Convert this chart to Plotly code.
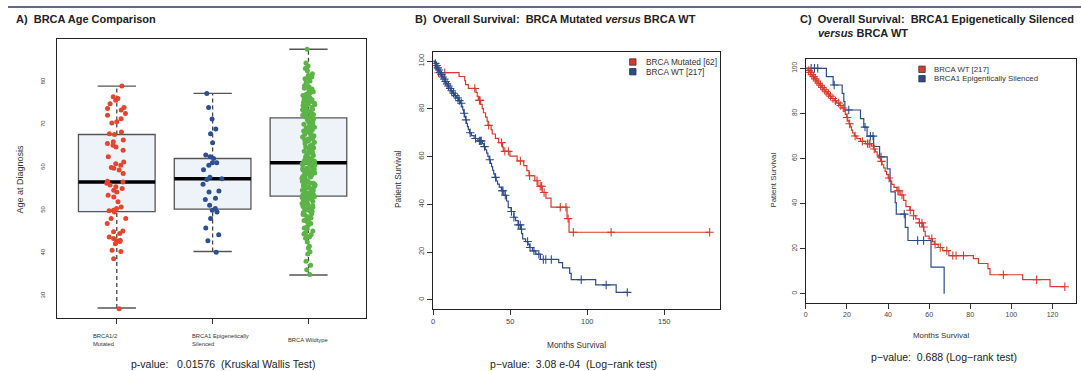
import numpy as np
import plotly.graph_objects as go

W, H = 1081, 371
FONT = "Liberation Sans, Arial, Helvetica, sans-serif"

# ---------------- Panel A: age at diagnosis by BRCA status ----------------
group_labels = ["BRCA1/2<br>Mutated", "BRCA1 Epigenetically<br>Silenced", "BRCA Wildtype"]

age_mutated = [
    79.0, 76.5, 76.1, 75.7, 74.9, 74.0, 73.8, 73.4, 72.6, 72.2,
    71.4, 70.7, 70.4, 68.3, 67.9, 67.7, 66.4, 66.0, 65.6, 65.2,
    64.8, 64.0, 62.5, 61.3, 60.9, 60.5, 60.0, 59.8, 59.4, 58.6,
    56.8, 56.6, 56.3, 55.9, 55.5, 55.1, 54.7, 54.3, 53.5, 53.1,
    52.0, 50.8, 50.4, 50.0, 49.9, 49.6, 48.1, 48.1, 46.9, 45.2,
    45.0, 44.6, 43.8, 43.4, 43.0, 42.9, 42.7, 42.2, 40.7, 40.4,
    38.7, 27.0,
]
age_silenced = [
    77.3, 74.0, 71.3, 69.0, 67.9, 65.8, 62.9, 62.5, 62.1, 61.1,
    61.1, 60.5, 59.5, 57.7, 57.4, 57.2, 56.1, 54.5, 54.3, 52.8,
    52.5, 51.2, 50.4, 50.0, 49.6, 48.1, 45.9, 44.3, 42.9, 40.2,
]
age_wildtype = [
    87.6, 84.4, 83.7, 83.1, 82.6, 81.9, 81.5, 81.1, 80.7, 80.2,
    79.8, 79.1, 78.8, 78.5, 78.1, 77.7, 77.4, 77.0, 76.8, 76.4,
    76.1, 75.8, 75.6, 75.2, 75.0, 74.7, 74.5, 74.2, 74.0, 73.8,
    73.5, 73.3, 73.1, 72.9, 72.7, 72.4, 72.2, 72.0, 71.8, 71.7,
    83.4, 79.5, 76.6, 75.4, 74.9, 73.6, 72.6, 78.3, 80.9, 77.2,
    74.4, 73.0, 71.9, 75.9,
    71.4, 71.1, 70.9, 70.6, 70.3, 70.1, 69.8, 69.6, 69.2, 69.0,
    68.7, 68.5, 68.2, 67.9, 67.7, 67.4, 67.1, 66.9, 66.6, 66.4,
    66.1, 65.9, 65.6, 65.3, 65.1, 64.8, 64.6, 64.3, 64.1, 63.8,
    63.6, 63.3, 63.1, 62.8, 62.6, 62.3, 62.1, 61.8, 61.6, 61.3,
    61.2, 70.4, 68.9, 67.3, 66.2, 65.0, 64.4, 63.5, 62.4, 61.5,
    69.4, 66.7, 64.0, 62.0,
    61.0, 60.8, 60.6, 60.3, 60.1, 59.9, 59.6, 59.4, 59.2, 58.9,
    58.7, 58.5, 58.2, 58.0, 57.8, 57.5, 57.3, 57.1, 56.8, 56.6,
    56.4, 56.1, 55.9, 55.7, 55.4, 55.2, 55.0, 54.7, 54.5, 54.3,
    54.0, 53.8, 53.6, 53.4, 60.4, 59.7, 58.6, 57.9, 57.0, 56.3,
    55.5, 54.8, 54.1, 53.5, 60.9, 59.0, 57.6, 56.0, 54.4, 58.4,
    55.8, 53.9, 59.5, 56.9, 54.6,
    53.2, 53.0, 52.8, 52.6, 52.3, 52.1, 51.9, 51.6, 51.4, 51.1,
    50.9, 50.6, 50.4, 50.1, 49.8, 49.5, 49.2, 48.9, 48.5, 48.2,
    47.8, 47.4, 47.0, 46.6, 46.1, 45.7, 45.2, 44.8, 44.3, 43.9,
    43.5, 42.6, 41.6, 41.2, 40.3, 39.8, 38.1, 37.2, 36.1, 35.0,
    52.9, 52.2, 51.5, 50.7, 49.9, 49.0, 48.0, 46.9, 45.9, 44.5,
    43.8, 52.5, 50.3, 47.6,
]
box_q1 = [49.7, 50.3, 53.3]
box_median = [56.6, 57.4, 61.1]
box_q3 = [67.7, 62.1, 71.6]
whisker_low = [27.2, 40.4, 34.9]
whisker_high = [79.0, 77.3, 87.6]
point_colors = ["#e5452f", "#2f4f93", "#5cb447"]
point_jitter = [0.3, 0.3, 0.17]

# ---------------- Kaplan-Meier data (months, % surviving) ----------------
# BRCA WT [217]
wt_event_t = [
    1.0, 1.8, 2.6, 3.4, 4.2, 5.0, 5.9, 6.8, 7.6, 8.5,
    9.4, 10.4, 11.5, 12.6, 13.8, 15.0, 16.4, 17.6, 18.6, 19.2,
    19.8, 20.4, 21.0, 21.6, 22.2, 22.8, 23.6, 24.8, 26.6, 29.0,
    32.0, 32.9, 33.8, 34.7, 35.5, 36.3, 37.1, 37.9, 38.6, 39.3,
    40.1, 40.9, 41.8, 42.9, 44.3, 45.9, 47.6, 48.7, 50.6, 52.4,
    53.5, 55.2, 56.6, 57.4, 58.1, 60.0, 61.6, 62.5, 64.4, 66.6,
    69.6, 81.5, 84.0, 88.6, 89.6, 105.5, 118.8,
]
wt_event_s = [
    99.1, 98.2, 97.2, 96.3, 95.3, 94.4, 93.4, 92.5, 91.5, 90.5,
    89.6, 88.6, 87.6, 86.6, 85.6, 84.6, 83.5, 82.4, 81.0, 79.6,
    78.2, 76.8, 75.4, 74.0, 72.6, 71.3, 70.0, 68.8, 67.6, 66.6,
    65.5, 64.2, 62.9, 61.5, 60.1, 58.7, 57.2, 55.8, 54.3, 52.8,
    51.3, 49.8, 48.5, 47.2, 45.7, 43.8, 41.4, 38.6, 37.0, 34.6,
    33.2, 31.4, 29.6, 27.7, 25.5, 24.4, 23.2, 21.9, 20.5, 19.1,
    16.9, 15.6, 13.4, 11.1, 8.4, 6.2, 3.1,
]
wt_censor_t = [
    1.4, 2.2, 3.0, 3.8, 4.6, 5.4, 6.3, 7.2, 8.0, 9.0,
    9.9, 11.0, 12.0, 13.2, 14.4, 16.0, 17.0, 18.2, 20.1, 21.3,
    24.0, 27.5, 30.0, 30.8, 31.2, 33.3, 36.8, 40.5, 44.8, 45.3,
    46.8, 50.8, 52.4, 55.3, 56.5, 57.3, 61.3, 62.9, 65.4, 68.6,
    71.5, 73.1, 76.7, 96.1, 112.3, 126.0,
]

# BRCA Mutated [62]
mut_event_t = [
    1.3, 2.6, 16.8, 20.5, 21.0, 22.8, 27.8, 28.6, 29.3, 30.8,
    31.8, 32.6, 34.0, 35.0, 35.6, 37.6, 38.3, 40.4, 42.5, 45.0,
    45.5, 49.8, 54.5, 58.8, 60.8, 62.2, 66.0, 68.0, 70.8, 73.2,
    76.5, 86.9, 88.2,
]
mut_event_s = [
    96.8, 95.2, 93.6, 91.9, 90.2, 88.6, 86.9, 85.3, 83.6, 81.9,
    80.1, 78.4, 76.6, 74.9, 73.1, 71.3, 69.5, 67.7, 65.9, 64.0,
    62.2, 60.2, 58.2, 56.2, 54.1, 52.0, 49.9, 47.6, 45.0, 42.6,
    38.8, 34.0, 28.3,
]
mut_censor_t = [
    3.5, 7.5, 27.0, 30.0, 30.4, 36.0, 44.4, 46.5, 48.8, 56.6,
    62.6, 67.4, 69.5, 70.4, 72.0, 82.5, 86.2, 87.6, 91.0, 115.5,
    179.5,
]

# BRCA1 Epigenetically Silenced
sil_event_t = [
    10.0, 13.3, 17.7, 18.5, 19.0, 26.6, 28.2, 29.8, 33.0, 35.9,
    39.6, 41.0, 41.4, 43.5, 44.0, 48.4, 49.7, 60.9, 67.3,
]
sil_event_s = [
    96.3, 92.6, 88.9, 85.2, 81.5, 77.7, 73.9, 69.9, 65.3, 60.7,
    55.4, 50.3, 45.2, 40.4, 35.3, 29.4, 23.6, 11.8, 0.0,
]
sil_censor_t = [2.6, 4.2, 5.8, 13.8, 20.9, 28.8, 31.4, 32.7, 36.6, 47.9, 54.4, 57.3]

RED_KM = "#d83a2c"
BLUE_KM = "#2d4a8a"


def km_path(times, surv, end_t):
    xs = [0.0] + list(times) + [max(end_t, times[-1])]
    ys = [100.0] + list(surv) + [surv[-1]]
    return xs, ys


def km_at(times, surv, t):
    i = np.searchsorted(np.asarray(times), t, side="right") - 1
    return 100.0 if i < 0 else surv[i]


fig = go.Figure()

# ---- Panel A points (library jitter) ----
for i, vals in enumerate([age_mutated, age_silenced, age_wildtype]):
    fig.add_trace(go.Box(
        y=vals, x0=i, width=0.8, boxpoints="all", jitter=point_jitter[i], pointpos=0,
        fillcolor="rgba(0,0,0,0)", line=dict(width=0, color="rgba(0,0,0,0)"),
        whiskerwidth=0, marker=dict(color=point_colors[i], size=5, line=dict(width=0)),
        xaxis="x", yaxis="y", showlegend=False, hoverinfo="y",
    ))

shapes = []
for i in range(3):
    # box body
    shapes.append(dict(type="rect", xref="x", yref="y", x0=i - 0.4, x1=i + 0.4,
                       y0=box_q1[i], y1=box_q3[i], fillcolor="#eef3fa",
                       line=dict(color="#555555", width=1.3), layer="below"))
    # whiskers (dashed)
    for a, b in [(box_q3[i], whisker_high[i]), (whisker_low[i], box_q1[i])]:
        shapes.append(dict(type="line", xref="x", yref="y", x0=i, x1=i, y0=a, y1=b,
                           line=dict(color="#444444", width=1.3, dash="4px,3px"), layer="below"))
    # staples
    for v in (whisker_low[i], whisker_high[i]):
        shapes.append(dict(type="line", xref="x", yref="y", x0=i - 0.2, x1=i + 0.2, y0=v, y1=v,
                           line=dict(color="#555555", width=1.4), layer="below"))
    # median
    shapes.append(dict(type="line", xref="x", yref="y", x0=i - 0.4, x1=i + 0.4,
                       y0=box_median[i], y1=box_median[i],
                       line=dict(color="#000000", width=3.5), layer="below"))

# ---- Panel B curves ----
for times, surv, cens, end_t, col in [
    (mut_event_t, mut_event_s, mut_censor_t, 179.5, RED_KM),
    (wt_event_t, wt_event_s, wt_censor_t, 126.0, BLUE_KM),
]:
    xs, ys = km_path(times, surv, end_t)
    fig.add_trace(go.Scatter(x=xs, y=ys, mode="lines", line=dict(color=col, width=1.2, shape="hv"),
                             xaxis="x2", yaxis="y2", showlegend=False, hoverinfo="skip"))
    fig.add_trace(go.Scatter(x=cens, y=[km_at(times, surv, t) for t in cens], mode="markers",
                             marker=dict(symbol="cross-thin", size=6, line=dict(color=col, width=1.1)),
                             xaxis="x2", yaxis="y2", showlegend=False, hoverinfo="skip"))

# ---- Panel C curves ----
for times, surv, cens, end_t, col in [
    (sil_event_t, sil_event_s, sil_censor_t, 67.3, BLUE_KM),
    (wt_event_t, wt_event_s, wt_censor_t, 126.0, RED_KM),
]:
    xs, ys = km_path(times, surv, end_t)
    fig.add_trace(go.Scatter(x=xs, y=ys, mode="lines", line=dict(color=col, width=1.2, shape="hv"),
                             xaxis="x3", yaxis="y3", showlegend=False, hoverinfo="skip"))
    fig.add_trace(go.Scatter(x=cens, y=[km_at(times, surv, t) for t in cens], mode="markers",
                             marker=dict(symbol="cross-thin", size=6, line=dict(color=col, width=1.1)),
                             xaxis="x3", yaxis="y3", showlegend=False, hoverinfo="skip"))


def px_x(p):
    return p / W


def px_y(p):
    return 1 - p / H


# top rule
shapes.append(dict(type="line", xref="paper", yref="paper", x0=px_x(6), x1=1,
                   y0=px_y(7), y1=px_y(7), line=dict(color="#2b3a6b", width=1.3)))

# legend keys
for cx, cy, col in [(632, 62, RED_KM), (632, 71.7, BLUE_KM), (921.7, 69.3, RED_KM), (921.7, 78.7, BLUE_KM)]:
    shapes.append(dict(type="rect", xref="paper", yref="paper",
                       x0=px_x(cx - 3.2), x1=px_x(cx + 3.2), y0=px_y(cy + 3.2), y1=px_y(cy - 3.2),
                       fillcolor=col, line=dict(color="#333333", width=0.8)))

NB = "\u00a0"
ann = []


def text(x, y, s, size, color="#222222", xanchor="center", angle=0):
    ann.append(dict(x=px_x(x), y=px_y(y), xref="paper", yref="paper", text=s, showarrow=False,
                    xanchor=xanchor, yanchor="middle", textangle=angle,
                    font=dict(family=FONT, size=size, color=color)))


# titles
text(12, 19, f"<b>A){NB}{NB}BRCA Age Comparison</b>", 11, xanchor="left")
text(411.7, 19, f"<b>B){NB}{NB}Overall Survival:{NB}{NB}BRCA Mutated <i>versus</i> BRCA WT</b>", 11, xanchor="left")
text(797.7, 19, f"<b>C){NB}{NB}Overall Survival:{NB}{NB}BRCA1 Epigenetically Silenced</b>", 11, xanchor="left")
text(816, 33.5, "<b><i>versus</i> BRCA WT</b>", 11, xanchor="left")

# axis titles
text(18, 178.5, "Age at Diagnosis", 9, "#333333", angle=-90)
text(396.7, 179, "Patient Survival", 8.3, "#333333", angle=-90)
text(772.5, 180.5, "Patient Survival", 7.9, "#333333", angle=-90)
text(575.5, 345, "Months Survival", 8.3, "#333333")
text(940.6, 335, "Months Survival", 7.9, "#333333")

# test results
text(221, 364.3, f"p-value:{NB}{NB}{NB}0.01576{NB}{NB}(Kruskal Wallis Test)", 10.5)
text(572.5, 364.3, f"p\u2212value:{NB}{NB}3.08 e-04{NB}{NB}(Log\u2212rank test)", 10.5)
text(943.8, 357.3, f"p\u2212value:{NB}{NB}0.688 (Log\u2212rank test)", 10.5)

# legend labels
text(643, 62, "BRCA Mutated [62]", 8.3, "#333333", xanchor="left")
text(643, 71.7, "BRCA WT [217]", 8.3, "#333333", xanchor="left")
text(931.7, 69.3, "BRCA WT [217]", 7.8, "#333333", xanchor="left")
text(931.7, 78.7, "BRCA1 Epigentically Silenced", 7.8, "#333333", xanchor="left")

# group labels under panel A
for i, (lab, shift) in enumerate(zip(group_labels, [-25.5, -23, -22.5])):
    ann.append(dict(x=i, y=px_y(340), xref="x", yref="paper", text=lab, showarrow=False,
                    xanchor="left", yanchor="middle", align="left", xshift=shift,
                    font=dict(family=FONT, size=5.8, color="#333333")))

axis_common = dict(showgrid=False, zeroline=False, showline=True, mirror=True,
                   linecolor="#222222", linewidth=1.2, tickcolor="#333333",
                   tickfont=dict(family=FONT, color="#444444"))

fig.update_layout(
    width=W, height=H, margin=dict(l=0, r=0, t=0, b=0),
    paper_bgcolor="white", plot_bgcolor="white", boxmode="overlay", showlegend=False,
    xaxis=dict(**axis_common, domain=[px_x(55), px_x(365)], range=[-0.625, 2.604],
               tickvals=[0, 1, 2], ticks="outside", ticklen=5, showticklabels=False, anchor="y"),
    yaxis=dict(**axis_common, domain=[px_y(318), px_y(39)], range=[24.86, 90.0],
               tickvals=[30, 40, 50, 60, 70, 80], ticks="", tickangle=-90,
               ticklabelstandoff=8, anchor="x"),
    xaxis2=dict(**axis_common, domain=[px_x(432), px_x(719)], range=[0, 186],
                tickvals=[0, 50, 100, 150], ticks="outside", ticklen=5, anchor="y2"),
    yaxis2=dict(**axis_common, domain=[px_y(309.3), px_y(51.7)], range=[-4, 104],
                tickvals=[0, 20, 40, 60, 80, 100], ticks="outside", ticklen=5, tickangle=-90,
                anchor="x2"),
    xaxis3=dict(**axis_common, domain=[px_x(805.3), px_x(1075.5)], range=[0, 131.2],
                tickvals=[0, 20, 40, 60, 80, 100, 120], ticks="outside", ticklen=5, anchor="y3"),
    yaxis3=dict(**axis_common, domain=[px_y(302.7), px_y(59.3)], range=[-4, 104],
                tickvals=[0, 20, 40, 60, 80, 100], ticks="outside", ticklen=5, tickangle=-90,
                anchor="x3"),
    shapes=shapes, annotations=ann,
)
fig.update_yaxes(tickfont_size=6)
fig.layout.yaxis2.tickfont.size = 7.5
fig.layout.xaxis2.tickfont.size = 7.5
fig.layout.yaxis3.tickfont.size = 6.5
fig.layout.xaxis3.tickfont.size = 7

fig.write_html("out.html", config={"displayModeBar": False})
